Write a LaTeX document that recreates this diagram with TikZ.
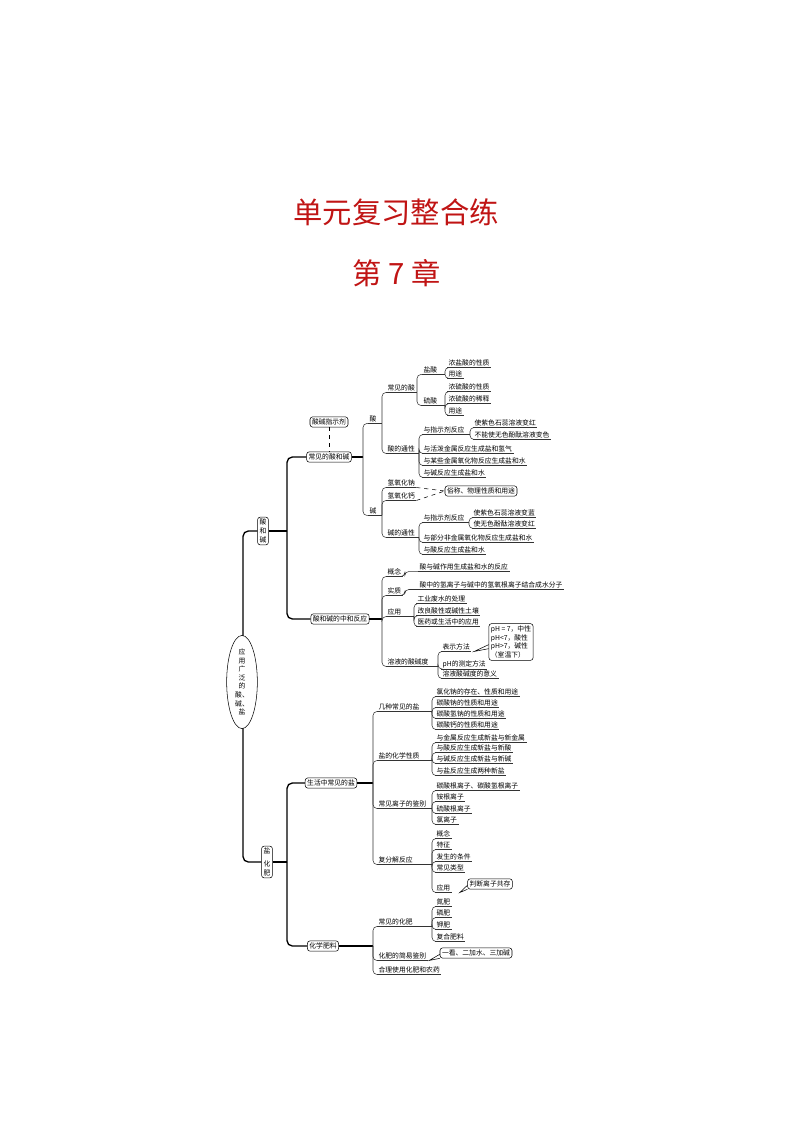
\documentclass[tikz,border=0pt]{standalone}
\usepackage{fontspec}
\setmainfont{Noto Sans CJK SC}
\usetikzlibrary{shapes.geometric}
\definecolor{tred}{RGB}{192,20,20}
\newcommand\lfn[4]{\node[lab] (#1) at (#2,#3) {#4}; \draw[ul] (#1.south west) -- (#1.south east);}
\newcommand\brn[5]{\node[lab] (#1) at (#2,#3) {#4}; \coordinate (#1x) at (#5,0); \coordinate (#1e) at (#1.south west -| #1x); \draw[ul] (#1.south west) -- (#1e);}
\newcommand\bxn[5]{\node[bx] (#1) at (#2,#3) {#4}; \coordinate (#1x) at (#5,0); \coordinate (#1e) at (#1.east -| #1x); \draw[lone] (#1.east) -- (#1e);}
\newcommand\chn[2]{\draw[conn] (#1e) |- (#2.south west);}
\begin{document}
\begin{tikzpicture}[x=0.75pt,y=-0.75pt,
  lab/.style={anchor=west,inner xsep=1pt,inner ysep=0.8pt,font=\fontsize{5.1}{6}\selectfont},
  ul/.style={line width=0.4pt,draw=black!80},
  conn/.style={line width=0.4pt,draw=black!80,rounded corners=3pt},
  lone/.style={line width=1pt,rounded corners=4pt},
  bx/.style={draw,rounded corners=2pt,fill=white,inner sep=1.5pt,font=\fontsize{5.1}{6}\selectfont,align=center},
  bxv/.style={bx,font=\fontsize{5.1}{6.6}\selectfont}]
\useasboundingbox (0,0) rectangle (794,1123);
\node[text=tred,font=\fontsize{22}{26}\selectfont] (t1) at (396,212) {单元复习整合练};
\node[text=tred,font=\fontsize{22}{26}\selectfont] (t2) at (397,273) {第 7 章};
% level 1 boxes
\node[bxv] (sj) at (263,531) {酸\\和\\碱};
\node[bxv] (yh) at (267,862) {盐\\[3pt]化\\肥};
\coordinate (tk) at (243,682);
\draw[lone] (sj.west) -| (tk) |- (yh.west);
\node[draw,ellipse,fill=white,inner sep=0pt,minimum width=30\pgflinewidth,minimum width=23pt,minimum height=58pt,align=center,font=\fontsize{5.1}{6.4}\selectfont] (root) at (242,682) {应\\用\\广\\泛\\的\\酸、\\碱、\\盐};
% level 2
\coordinate (sjx) at (287,0); \coordinate (sje) at (sj.east -| sjx);
\draw[lone] (sj.east) -- (sje);
\bxn{cjs}{329}{457}{常见的酸和碱}{363}
\bxn{zhh}{340}{619}{酸和碱的中和反应}{382}
\draw[lone] (sje) |- (cjs.west); \draw[lone] (sje) |- (zhh.west);
\node[bx] (zsj) at (329,422) {酸碱指示剂};
\draw[dashed,line width=0.4pt] (zsj.south) -- (cjs.north);
\coordinate (yhx) at (287,0); \coordinate (yhe) at (yh.east -| yhx);
\draw[lone] (yh.east) -- (yhe);
\bxn{shy}{331}{783}{生活中常见的盐}{373}
\bxn{hxf}{323}{946}{化学肥料}{373}
\draw[lone] (yhe) |- (shy.west); \draw[lone] (yhe) |- (hxf.west);
% acid
\brn{s}{368}{419}{酸}{382} \chn{cjs}{s}
\brn{j}{368}{511}{碱}{382} \chn{cjs}{j}
\brn{cjsu}{386}{388}{常见的酸}{417} \chn{s}{cjsu}
\brn{stx}{386}{449}{酸的通性}{419} \chn{s}{stx}
\brn{ys}{422}{370}{盐酸}{445} \chn{cjsu}{ys}
\brn{ls}{422}{401}{硫酸}{445} \chn{cjsu}{ls}
\lfn{a1}{447}{363}{浓盐酸的性质} \chn{ys}{a1}
\lfn{a2}{447}{374}{用途} \chn{ys}{a2}
\lfn{a3}{447}{387}{浓硫酸的性质} \chn{ls}{a3}
\lfn{a4}{447}{399}{浓硫酸的稀释} \chn{ls}{a4}
\lfn{a5}{447}{411}{用途} \chn{ls}{a5}
\brn{zs}{422}{430}{与指示剂反应}{470} \chn{stx}{zs}
\lfn{b1}{422}{449}{与活泼金属反应生成盐和氢气} \chn{stx}{b1}
\lfn{b2}{422}{461}{与某些金属氧化物反应生成盐和水} \chn{stx}{b2}
\lfn{b3}{422}{473}{与碱反应生成盐和水} \chn{stx}{b3}
\lfn{c1}{473}{423}{使紫色石蕊溶液变红} \chn{zs}{c1}
\lfn{c2}{473}{435}{不能使无色酚酞溶液变色} \chn{zs}{c2}
% base
\lfn{naoh}{386}{483}{氢氧化钠} \chn{j}{naoh}
\lfn{caoh}{386}{496}{氢氧化钙} \chn{j}{caoh}
\brn{jtx}{386}{533}{碱的通性}{419} \chn{j}{jtx}
\node[bx] (sw) at (481,491) {俗称、物理性质和用途};
\draw[dashed,line width=0.4pt] (naoh.south east) -- (sw.west);
\draw[dashed,line width=0.4pt] (caoh.south east) -- (sw.west);
\brn{zj}{422}{518}{与指示剂反应}{469} \chn{jtx}{zj}
\lfn{d1}{422}{538}{与部分非金属氧化物反应生成盐和水} \chn{jtx}{d1}
\lfn{d2}{422}{550}{与酸反应生成盐和水} \chn{jtx}{d2}
\lfn{e1}{472}{513}{使紫色石蕊溶液变蓝} \chn{zj}{e1}
\lfn{e2}{472}{524}{使无色酚酞溶液变红} \chn{zj}{e2}
% neutralization
\lfn{gn}{386}{572}{概念} \chn{zhh}{gn}
\lfn{gnd}{418}{567}{酸与碱作用生成盐和水的反应}
\draw[conn] (gn.south east) -- ++(2,0) |- (gnd.south west);
\lfn{sz}{386}{591}{实质} \chn{zhh}{sz}
\lfn{szd}{418}{585}{酸中的氢离子与碱中的氢氧根离子结合成水分子}
\draw[conn] (sz.south east) -- ++(2,0) |- (szd.south west);
\brn{yy}{386}{612}{应用}{414} \chn{zhh}{yy}
\lfn{f1}{416}{599}{工业废水的处理} \chn{yy}{f1}
\lfn{f2}{416}{611}{改良酸性或碱性土壤} \chn{yy}{f2}
\lfn{f3}{416}{622}{医药或生活中的应用} \chn{yy}{f3}
\brn{sjd}{386}{662}{溶液的酸碱度}{438} \chn{zhh}{sjd}
\lfn{g1}{441}{647}{表示方法} \chn{sjd}{g1}
\lfn{g2}{441}{664}{pH的测定方法} \chn{sjd}{g2}
\lfn{g3}{441}{674}{溶液酸碱度的意义} \chn{sjd}{g3}
\node[bx,align=left,font=\fontsize{5.1}{6.6}\selectfont] (ph) at (511,642) {pH = 7，中性\\pH<7，酸性\\pH>7，碱性\\（室温下）};
\draw[line width=0.4pt] ([yshift=-2pt]ph.west) -- ([xshift=2pt]g1.south east) -- ([yshift=-5pt]ph.west);
% salts
\brn{jz}{377}{707}{几种常见的盐}{432} \chn{shy}{jz}
\brn{hx}{377}{756}{盐的化学性质}{432} \chn{shy}{hx}
\brn{lz}{377}{804}{常见离子的鉴别}{432} \chn{shy}{lz}
\brn{ff}{377}{860}{复分解反应}{432} \chn{shy}{ff}
\lfn{h1}{435}{692}{氯化钠的存在、性质和用途} \chn{jz}{h1}
\lfn{h2}{435}{703}{碳酸钠的性质和用途} \chn{jz}{h2}
\lfn{h3}{435}{714}{碳酸氢钠的性质和用途} \chn{jz}{h3}
\lfn{h4}{435}{725}{碳酸钙的性质和用途} \chn{jz}{h4}
\lfn{i1}{435}{738}{与金属反应生成新盐与新金属} \chn{hx}{i1}
\lfn{i2}{435}{748}{与酸反应生成新盐与新酸} \chn{hx}{i2}
\lfn{i3}{435}{759}{与碱反应生成新盐与新碱} \chn{hx}{i3}
\lfn{i4}{435}{771}{与盐反应生成两种新盐} \chn{hx}{i4}
\lfn{k1}{435}{786}{碳酸根离子、碳酸氢根离子} \chn{lz}{k1}
\lfn{k2}{435}{797}{铵根离子} \chn{lz}{k2}
\lfn{k3}{435}{809}{硫酸根离子} \chn{lz}{k3}
\lfn{k4}{435}{820}{氯离子} \chn{lz}{k4}
\lfn{m1}{435}{834}{概念} \chn{ff}{m1}
\lfn{m2}{435}{845}{特征} \chn{ff}{m2}
\lfn{m3}{435}{857}{发生的条件} \chn{ff}{m3}
\lfn{m4}{435}{868}{常见类型} \chn{ff}{m4}
\lfn{m5}{435}{888}{应用} \chn{ff}{m5}
\node[bx] (pd) at (490,884) {判断离子共存};
\draw[line width=0.4pt] ([yshift=-1pt]pd.west) -- ([xshift=6pt]m5.south east) -- ([yshift=-4pt]pd.west);
% fertilizers
\brn{cjh}{377}{922}{常见的化肥}{432} \chn{hxf}{cjh}
\lfn{jb}{377}{956}{化肥的简易鉴别} \chn{hxf}{jb}
\lfn{hl}{377}{970}{合理使用化肥和农药} \chn{hxf}{hl}
\lfn{n1}{435}{902}{氮肥} \chn{cjh}{n1}
\lfn{n2}{435}{913}{磷肥} \chn{cjh}{n2}
\lfn{n3}{435}{925}{钾肥} \chn{cjh}{n3}
\lfn{n4}{435}{937}{复合肥料} \chn{cjh}{n4}
\node[bx] (yk) at (476,953) {一看、二加水、三加碱};
\draw[line width=0.4pt] ([yshift=-1pt]yk.west) -- ([xshift=1pt]jb.south east) -- ([yshift=-4pt]yk.west);
\end{tikzpicture}
\end{document}
